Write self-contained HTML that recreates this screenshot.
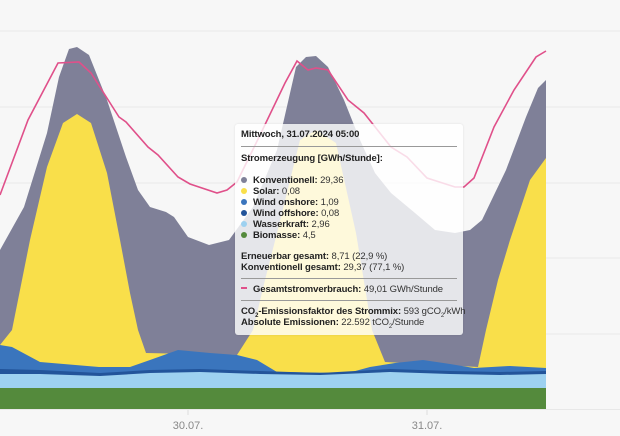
<!DOCTYPE html>
<html><head><meta charset="utf-8"><style>
body{margin:0;background:#f7f7f7;width:620px;height:436px;overflow:hidden;position:relative;font-family:"Liberation Sans",sans-serif}
svg{position:absolute;left:0;top:0}
.tt{position:absolute;left:235px;top:124px;width:228px;height:211px;background:rgba(255,255,255,0.8);border-radius:3px;box-shadow:0 0 2px rgba(0,0,0,0.1);font-size:9.5px;color:#333;letter-spacing:-0.1px}
.tt div{position:absolute;left:6px;white-space:nowrap}
.tt b{color:#222}
.hr{height:1px;background:#999;width:216px}
.dot{display:inline-block;width:6px;height:6px;border-radius:50%;margin-right:6px;vertical-align:0}
</style></head><body>
<svg width="620" height="436">
<g stroke="#e8e8e8" stroke-width="1">
<line x1="0" y1="31" x2="620" y2="31"/><line x1="0" y1="107" x2="620" y2="107"/><line x1="0" y1="183" x2="620" y2="183"/><line x1="0" y1="258" x2="620" y2="258"/><line x1="0" y1="334" x2="620" y2="334"/><line x1="0" y1="409.5" x2="620" y2="409.5"/>
</g>
<polygon fill="#7f8098" points="0,250 24,207 47,133 59,77 69,49 77,47 89,55 107,100 126,157 138,190 150,207 166,212 174,217 188,237 209,245 229,240 253,207 277,150 296,67 306,57 316,56 328,67 344,100 360,140 375,173 391,193 415,213 435,230 455,233 470,230 482,220 506,170 526,117 538,88 546,80 546,409 0,409"/>
<polygon fill="#f9df4a" points="0,345 12,330 30,240 47,167 63,123 77,114 91,123 107,173 120,240 130,293 138,330 146,353 237,355 253,330 265,280 277,233 300,140 316,130 336,143 356,233 372,330 385,362 478,367 486,330 498,280 510,240 530,180 546,158 546,409 0,409"/>
<polygon fill="#3a75bd" points="0,345 12,347 40,362 99,367 130,367 150,360 178,350 210,353 237,355 257,360 277,372 348,373 370,367 395,363 423,360 450,364 474,368 510,366 546,368 546,409 0,409"/>
<polygon fill="#22549a" points="0,369 40,370 100,373 150,370 200,369 260,371 320,373 390,369 450,371 500,372 546,371 546,409 0,409"/>
<polygon fill="#9dd1f0" points="0,374 40,374 100,376 150,373 200,372 260,374 320,375 390,372 450,374 500,375 546,374 546,409 0,409"/>
<rect x="0" y="388" width="546" height="21" fill="#548a3c"/>
<polyline fill="none" stroke="#e0508a" stroke-width="1.6" points="0,195 28,120 58,63 79,62 91,73 119,117 126,122 148,147 158,155 178,177 190,184 217,193 227,190 237,182 261,133 285,83 297,61 308,70 316,68 328,70 348,100 364,113 391,147 407,157 427,178 455,187 464,187 474,178 494,127 514,90 536,57 546,51"/>
<g stroke="#ddd"><line x1="188" y1="410" x2="188" y2="415"/><line x1="427" y1="410" x2="427" y2="415"/></g>
<g fill="#888" font-size="11" text-anchor="middle" font-family="Liberation Sans,sans-serif"><text x="188" y="429">30.07.</text><text x="427" y="429">31.07.</text></g>
</svg>
<div class="tt">
<div style="top:5px"><b>Mittwoch, 31.07.2024 05:00</b></div>
<div class="hr" style="top:22px"></div>
<div style="top:29px"><b>Stromerzeugung [GWh/Stunde]:</b></div>
<div style="top:51px"><span class="dot" style="background:#7f8098"></span><b>Konventionell:</b> 29,36</div>
<div style="top:62px"><span class="dot" style="background:#f9df4a"></span><b>Solar:</b> 0,08</div>
<div style="top:73px"><span class="dot" style="background:#3a75bd"></span><b>Wind onshore:</b> 1,09</div>
<div style="top:84px"><span class="dot" style="background:#22549a"></span><b>Wind offshore:</b> 0,08</div>
<div style="top:95px"><span class="dot" style="background:#9dd1f0"></span><b>Wasserkraft:</b> 2,96</div>
<div style="top:106px"><span class="dot" style="background:#548a3c"></span><b>Biomasse:</b> 4,5</div>
<div style="top:127px"><b>Erneuerbar gesamt:</b> 8,71 (22,9 %)</div>
<div style="top:138px"><b>Konventionell gesamt:</b> 29,37 (77,1 %)</div>
<div class="hr" style="top:154px"></div>
<div style="top:160px"><span style="display:inline-block;width:6px;height:2px;background:#e0508a;margin-right:6px;vertical-align:3px"></span><b>Gesamtstromverbrauch:</b> 49,01 GWh/Stunde</div>
<div class="hr" style="top:176px"></div>
<div style="top:182px"><b>CO<sub style="font-size:6px">2</sub>-Emissionsfaktor des Strommix:</b> 593 gCO<sub style="font-size:6px">2</sub>/kWh</div>
<div style="top:193px"><b>Absolute Emissionen:</b> 22.592 tCO<sub style="font-size:6px">2</sub>/Stunde</div>
</div>
</body></html>
